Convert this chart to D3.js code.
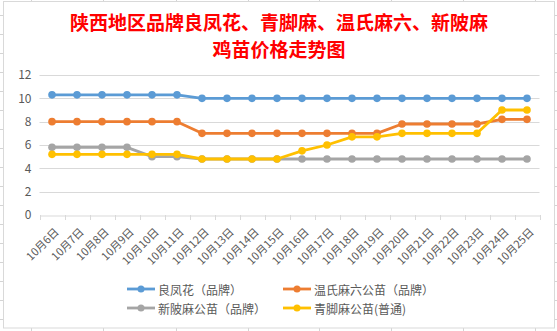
<!DOCTYPE html>
<html><head><meta charset="utf-8">
<script src="https://cdn.jsdelivr.net/npm/d3@7"></script>
<style>
html,body{margin:0;padding:0;background:#fff;}
svg text{font-family:"Noto Sans CJK SC","Noto Sans",sans-serif;}
</style></head>
<body><svg id="c" width="557" height="331"></svg>
<script>
const titleLines = ["陕西地区品牌良凤花、青脚麻、温氏麻六、新陂麻", "鸡苗价格走势图"];
const categories = ["10月6日","10月7日","10月8日","10月9日","10月10日","10月11日","10月12日","10月13日","10月14日","10月15日","10月16日","10月17日","10月18日","10月19日","10月20日","10月21日","10月22日","10月23日","10月24日","10月25日"];
const liangfenghua = [10.3,10.3,10.3,10.3,10.3,10.3,10,10,10,10,10,10,10,10,10,10,10,10,10,10];
const wenshi = [8,8,8,8,8,8,7,7,7,7,7,7,7,7,7.8,7.8,7.8,7.8,8.2,8.2];
const xinbei = [5.8,5.8,5.8,5.8,5,5,4.8,4.8,4.8,4.8,4.8,4.8,4.8,4.8,4.8,4.8,4.8,4.8,4.8,4.8];
const qingjiao = [5.2,5.2,5.2,5.2,5.2,5.2,4.8,4.8,4.8,4.8,5.5,6,6.7,6.7,7,7,7,7,9,9];
const seriesNames = ["良凤花（品牌）","温氏麻六公苗（品牌）","新陂麻公苗（品牌）","青脚麻公苗(普通)"];
const seriesColors = ["#5b9bd5","#ed7d31","#a5a5a5","#ffc000"];
const yTicks = [0,2,4,6,8,10,12];

const series = [liangfenghua, wenshi, xinbei, qingjiao];
const svg = d3.select("#c");

// spreadsheet background grid
const bg = svg.append("g");
const colXs = [31,103,176,248,319,391,463,535];
colXs.forEach(x=>{
  bg.append("line").attr("x1",x+0.5).attr("x2",x+0.5).attr("y1",0).attr("y2",331).attr("stroke","#d4d4d4");
});
for(let y=15.5;y<331;y+=19){
  bg.append("line").attr("x1",0).attr("x2",557).attr("y1",y).attr("y2",y).attr("stroke","#d4d4d4");
}
// chart area
svg.append("rect").attr("x",3.5).attr("y",1.5).attr("width",551).attr("height",326.5)
  .attr("fill","#fff").attr("stroke","#d9d9d9");

// title
svg.append("g").selectAll("text").data(titleLines).join("text")
  .attr("x",279).attr("y",(d,i)=>29.5+i*27).attr("text-anchor","middle")
  .attr("font-size",19).attr("font-weight","bold").attr("fill","#ff0000")
  .text(d=>d);

const x = d3.scaleBand().domain(categories).range([39.5,539.5]);
const y = d3.scaleLinear().domain([0,12]).range([215,75]);

// gridlines
svg.append("g").selectAll("line").data(yTicks.filter(t=>t>0)).join("line")
  .attr("x1",39.5).attr("x2",539.5)
  .attr("y1",d=>Math.round(y(d))+0.5).attr("y2",d=>Math.round(y(d))+0.5)
  .attr("stroke","#d9d9d9");

// y axis labels
const yAxis = d3.axisLeft(y).tickValues(yTicks).tickSize(0).tickPadding(8);
const yg = svg.append("g").attr("transform","translate(39.5,0)").call(yAxis);
yg.select(".domain").remove();
yg.selectAll("text").attr("font-size",12).attr("fill","#595959")
  .attr("font-family","'Noto Sans','Noto Sans CJK SC',sans-serif");

// x axis
const xAxis = d3.axisBottom(x).tickSize(0).tickPadding(0);
const xg = svg.append("g").attr("transform","translate(0,215.5)").call(xAxis);
xg.select(".domain").attr("stroke","#d9d9d9");
xg.selectAll(".tick line").remove();
// band-boundary tick marks
const bounds = categories.map(c=>x(c)).concat([x.range()[1]]);
svg.append("g").selectAll("line").data(bounds).join("line")
  .attr("x1",d=>Math.round(d)+0.5).attr("x2",d=>Math.round(d)+0.5)
  .attr("y1",215).attr("y2",220).attr("stroke","#d9d9d9");
xg.selectAll(".tick text")
  .attr("font-size",11).attr("fill","#595959")
  .attr("text-anchor","end")
  .attr("dy",0).attr("y",0)
  .attr("transform",`translate(${x.bandwidth()/2-7},15) rotate(-45)`)
  .attr("dominant-baseline","middle");

// series
const line = d3.line().x((d,i)=>x(categories[i])+x.bandwidth()/2).y(d=>y(d));
series.forEach((s,k)=>{
  const g = svg.append("g");
  g.append("path").datum(s).attr("d",line).attr("fill","none")
    .attr("stroke",seriesColors[k]).attr("stroke-width",2.8).attr("stroke-linejoin","round");
  g.selectAll("circle").data(s).join("circle")
    .attr("cx",(d,i)=>x(categories[i])+x.bandwidth()/2).attr("cy",d=>y(d))
    .attr("r",3.8).attr("fill",seriesColors[k]);
});

// legend
const legPos = [[127,289],[283,289],[127,308],[283,308]];
seriesNames.forEach((n,k)=>{
  const [lx,ly] = legPos[k];
  const g = svg.append("g");
  g.append("line").attr("x1",lx).attr("x2",lx+28).attr("y1",ly).attr("y2",ly)
    .attr("stroke",seriesColors[k]).attr("stroke-width",2.8);
  g.append("circle").attr("cx",lx+14).attr("cy",ly).attr("r",3.5).attr("fill",seriesColors[k]);
  g.append("text").attr("x",lx+31).attr("y",ly).attr("dominant-baseline","central")
    .attr("font-size",12).attr("fill","#595959").text(n);
});
</script></body></html>
